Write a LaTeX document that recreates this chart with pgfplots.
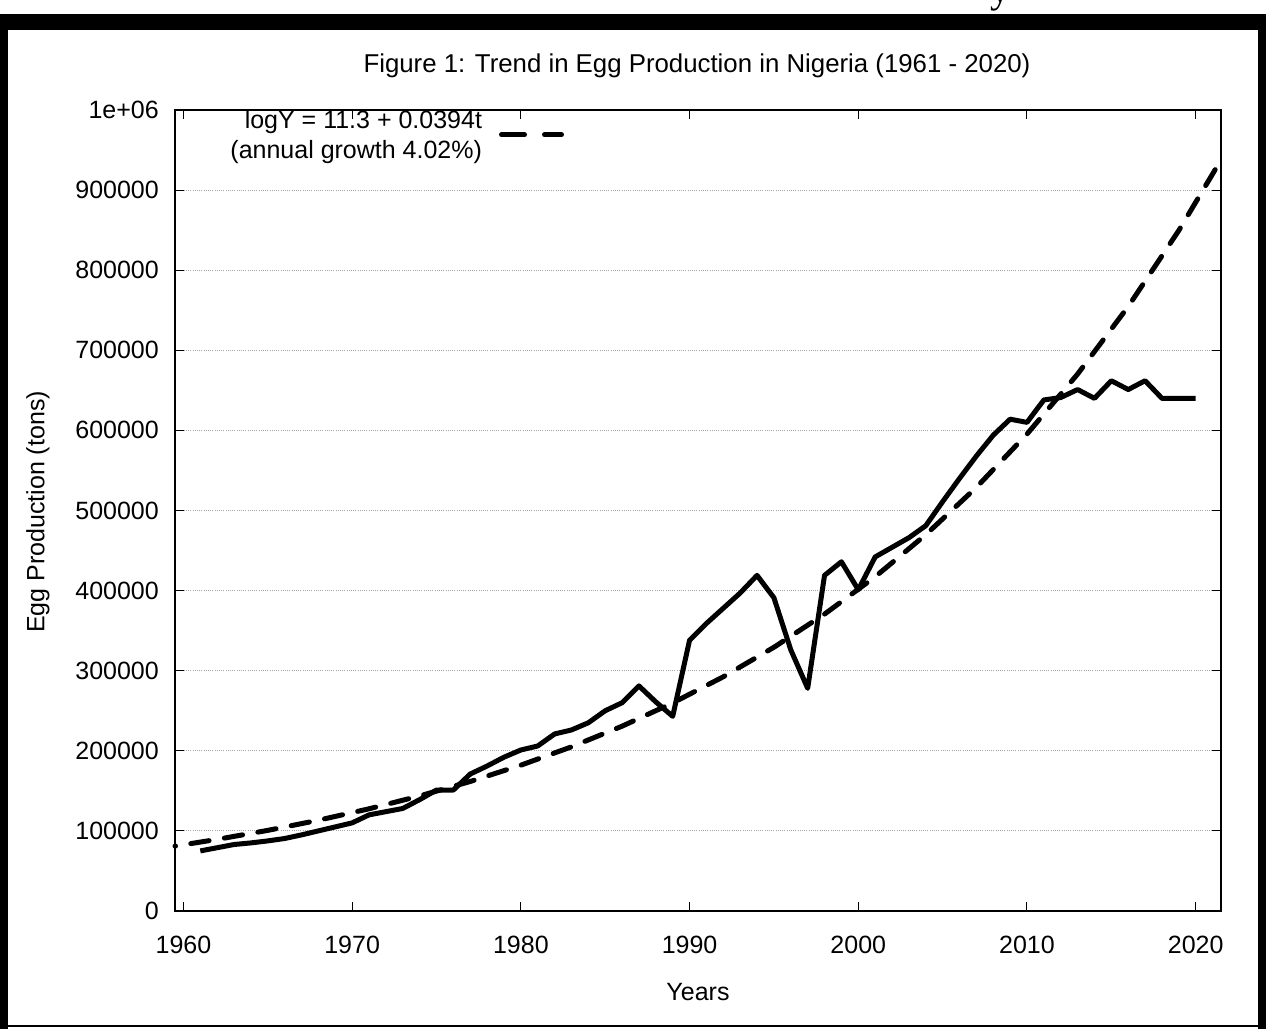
\documentclass[border=0pt]{standalone}
\usepackage{pgfplots}
\pgfplotsset{compat=1.18}
\usepackage{fontspec}
\setmainfont{Liberation Sans}
\newfontfamily\seriffont{Liberation Serif}
\newcommand\tf{\fontsize{25bp}{30bp}\selectfont}
\pgfplotstableread{
year value
1961 75000
1962 79000
1963 83000
1964 85000
1965 87500
1966 90500
1967 95000
1968 100000
1969 105000
1970 110000
1971 120000
1972 124000
1973 128000
1974 139000
1975 151000
1976 151000
1977 171000
1978 181000
1979 192000
1980 201000
1981 206000
1982 221000
1983 226000
1984 235000
1985 250000
1986 260000
1987 281000
1988 261000
1989 243000
1990 338000
1991 359000
1992 378000
1993 397000
1994 419000
1995 391000
1996 326000
1997 278000
1998 419000
1999 436000
2000 401000
2001 442000
2002 454000
2003 466000
2004 481000
2005 511000
2006 540000
2007 568000
2008 594000
2009 614000
2010 610000
2011 638000
2012 641000
2013 651000
2014 640000
2015 662000
2016 651000
2017 662000
2018 640000
2019 640000
2020 640000
}\eggdata
\pgfplotstableread{
year trend
1959.5 81000
1962 89407
1965 100656
1968 113318
1971 127573
1974 143621
1977 161688
1980 182029
1983 204938
1986 230719
1989 259742
1992 292419
1995 329220
1998 370638
2001 417267
2004 469764
2007 528860
2010 595395
2013 670305
2016 754632
2019 849577
2021.5 937688
}\trenddata
\begin{document}
\begin{tikzpicture}[x=1bp,y=1bp]
\path[use as bounding box] (0,0) rectangle (1266,1029);
% page frame
\fill[black] (0,0) rectangle (8,1015);
\fill[black] (0,999) rectangle (1266,1015);
\fill[black] (1258,0) rectangle (1266,1015);
\fill[black] (0,2) rectangle (1266,4);
\node[font=\fontsize{40bp}{40bp}\seriffont, anchor=base, inner sep=0pt] at (1000,1026) {y};
\begin{axis}[
  at={(175bp,118bp)}, anchor=south west,
  scale only axis, width=1046bp, height=801bp,
  xmin=1959.5, xmax=2021.5, ymin=0, ymax=1000000,
  xtick={1960,1970,1980,1990,2000,2010,2020},
  xticklabels={1960,1970,1980,1990,2000,2010,2020},
  ytick={0,100000,200000,300000,400000,500000,600000,700000,800000,900000,1000000},
  yticklabels={0,100000,200000,300000,400000,500000,600000,700000,800000,900000,1e+06},
  scaled y ticks=false,
  xtick pos=both, ytick pos=both,
  tick align=inside, major tick length=9bp,
  tick style={black, line width=1bp},
  axis line style={black, line width=1.5bp},
  ymajorgrids,
  grid style={gray!70, line width=0.8bp, dash pattern=on 1bp off 1.2bp},
  xticklabel style={font=\tf, anchor=north, inner sep=0pt, yshift=-25bp},
  yticklabel style={font=\tf, anchor=east, inner sep=0pt, xshift=-16bp},
  clip=false,
  legend style={at={(0.3719,1.0)}, anchor=north east, draw=none, fill=none,
    inner sep=0pt, outer sep=0pt, column sep=17bp,
    legend plot pos=right,
    nodes={inner sep=0pt, align=right, font=\tf}},
  legend cell align=right,
]
\addplot[black, line width=5bp, line join=round, forget plot] table[x=year, y=value] {\eggdata};
\addplot[black, line width=5bp, line cap=round, dash pattern=on 18.5bp off 15.5bp, dash phase=18bp,
  legend image code/.code={\draw[black, line width=5bp, line cap=round, dash pattern=on 23bp off 20bp, dash phase=0bp] (0bp,0bp) -- (60bp,0bp);}]
  table[x=year, y=trend] {\trenddata};
\addlegendentry{logY = 11.3 + 0.0394t\\(annual growth 4.02\%)}
\end{axis}
\node[font=\fontsize{25.8bp}{30bp}\selectfont] at (697,963) {Figure 1: Trend in Egg Production in Nigeria (1961 - 2020)};
\node[font=\tf] at (698,37) {Years};
\node[font=\tf, rotate=90] at (38,517) {Egg Production (tons)};
\end{tikzpicture}
\end{document}
